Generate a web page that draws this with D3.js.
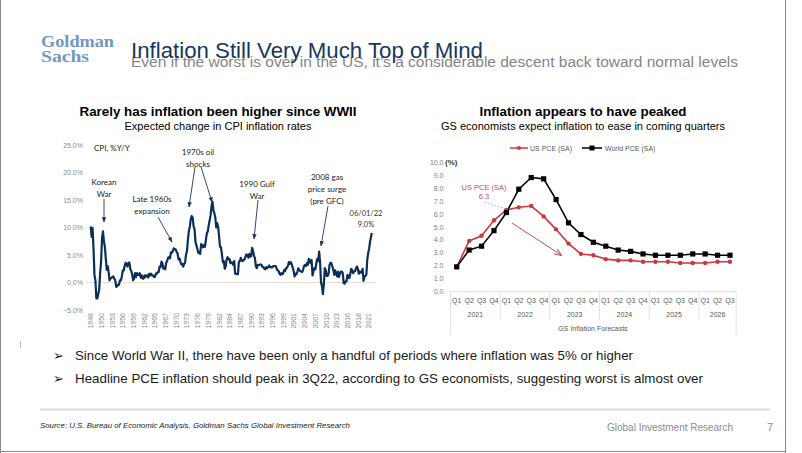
<!DOCTYPE html>
<html>
<head>
<meta charset="utf-8">
<script src="https://cdn.jsdelivr.net/npm/d3@7"></script>
<style>
  html, body { margin: 0; padding: 0; background: #ffffff; }
  svg { display: block; }
</style>
</head>
<body>
<svg id="chart" width="802" height="453"></svg>
<script>
// ---------------- DATA ----------------
// US CPI, % Y/Y, sampled at the first month of each quarter, starting Jan 1948
const cpiStartYear = 1948;
const cpiQuarterly = [
  10.2, 8.3, 9.9, 6.1,      // 1948
  1.3, 0.4, -2.9, -2.9,     // 1949
  -2.1, -1.3, 1.7, 3.8,     // 1950
  8.1, 9.3, 7.5, 6.5,       // 1951
  4.3, 2.3, 3.0, 1.9,       // 1952
  0.4, 0.8, 0.8, 1.0,       // 1953
  1.1, 0.7, 0.4, -0.8,      // 1954
  -0.7, -0.4, -0.4, 0.4,    // 1955
  0.4, 1.1, 2.2, 2.2,       // 1956
  3.0, 3.6, 3.3, 2.9,       // 1957
  3.6, 3.6, 2.4, 2.1,       // 1958
  1.4, 0.4, 0.7, 1.7,       // 1959
  1.0, 1.7, 1.4, 1.4,       // 1960
  1.7, 0.9, 1.3, 0.7,       // 1961
  0.7, 1.3, 1.0, 1.3,       // 1962
  1.3, 0.9, 1.6, 1.3,       // 1963
  1.6, 1.3, 1.3, 1.0,       // 1964
  1.0, 1.6, 1.6, 1.9,       // 1965
  1.9, 2.9, 2.8, 3.8,       // 1966
  3.5, 2.5, 2.8, 2.4,       // 1967
  3.6, 3.9, 4.5, 4.6,       // 1968
  4.4, 5.5, 5.4, 5.7,       // 1969
  6.2, 6.1, 6.0, 5.6,       // 1970
  5.3, 4.2, 4.4, 3.8,       // 1971
  3.3, 3.4, 2.9, 3.4,       // 1972
  3.6, 5.1, 5.7, 7.8,       // 1973
  9.4, 10.1, 11.5, 12.1,    // 1974
  11.8, 10.2, 9.7, 7.4,     // 1975
  6.7, 6.1, 5.4, 5.5,       // 1976
  5.2, 7.0, 6.8, 6.4,       // 1977
  6.8, 6.5, 7.7, 8.9,       // 1978
  9.3, 10.4, 11.3, 12.2,    // 1979
  13.9, 14.7, 13.1, 12.6,   // 1980
  11.8, 10.0, 10.8, 10.1,   // 1981
  8.4, 6.5, 6.4, 5.1,       // 1982
  3.7, 3.9, 2.5, 2.9,       // 1983
  4.2, 4.6, 4.2, 4.3,       // 1984
  3.5, 3.7, 3.6, 3.2,       // 1985
  3.9, 1.6, 1.6, 1.5,       // 1986
  1.5, 3.8, 3.9, 4.5,       // 1987
  4.0, 3.9, 4.1, 4.2,       // 1988
  4.7, 5.1, 5.0, 4.5,       // 1989
  5.2, 4.7, 4.8, 6.3,       // 1990
  5.7, 4.9, 4.4, 2.9,       // 1991
  2.6, 3.2, 3.2, 3.2,       // 1992
  3.3, 3.2, 2.8, 2.8,       // 1993
  2.5, 2.4, 2.8, 2.6,       // 1994
  2.8, 3.1, 2.8, 2.8,       // 1995
  2.7, 2.9, 3.0, 3.0,       // 1996
  3.0, 2.5, 2.2, 2.1,       // 1997
  1.6, 1.4, 1.7, 1.5,       // 1998
  1.7, 2.3, 2.1, 2.6,       // 1999
  2.7, 3.1, 3.7, 3.4,       // 2000
  3.7, 3.3, 2.7, 2.1,       // 2001
  1.1, 1.6, 1.5, 2.0,       // 2002
  2.6, 2.2, 2.1, 2.0,       // 2003
  1.9, 2.3, 3.0, 3.2,       // 2004
  3.0, 3.5, 3.2, 4.3,       // 2005
  4.0, 3.5, 4.1, 1.3,       // 2006
  2.1, 2.6, 2.4, 3.5,       // 2007
  4.3, 3.9, 5.6, 3.7,       // 2008
  0.0, -0.7, -2.1, -0.2,    // 2009
  2.6, 2.2, 1.2, 1.2,       // 2010
  1.6, 3.2, 3.6, 3.5,       // 2011
  2.9, 2.3, 1.4, 2.2,       // 2012
  1.6, 1.1, 2.0, 1.0,       // 2013
  1.6, 2.0, 2.0, 1.7,       // 2014
  -0.1, -0.2, 0.2, 0.2,     // 2015
  1.4, 1.1, 0.8, 1.6,       // 2016
  2.5, 2.2, 1.7, 2.0,       // 2017
  2.1, 2.5, 2.9, 2.5,       // 2018
  1.6, 2.0, 1.8, 1.8,       // 2019
  2.5, 0.3, 1.0, 1.2,       // 2020
  1.4, 4.2, 5.4, 6.2,       // 2021
  7.5, 8.3                  // 2022
];
const cpiLatestLabel = "06/01/22";
const cpiLatestValue = 9.0;           // June 2022
const cpiLatestMonth = (2022 - 1948) * 12 + 5;
const cpiYTicks = [-5, 0, 5, 10, 15, 20, 25];
const cpiYearLabels = ["1948","1950","1953","1956","1959","1962","1965","1967","1970","1973",
  "1976","1979","1982","1984","1987","1990","1993","1996","1999","2001","2004","2007","2010",
  "2013","2016","2018","2021"];
const cpiLabelStepMonths = 34;

// GS PCE forecasts
const pceQuarters = ["Q1","Q2","Q3","Q4","Q1","Q2","Q3","Q4","Q1","Q2","Q3","Q4",
  "Q1","Q2","Q3","Q4","Q1","Q2","Q3","Q4","Q1","Q2","Q3"];
const pceYears = ["2021","2022","2023","2024","2025","2026"];
const usPCE = [1.9, 3.9, 4.3, 5.5, 6.3, 6.5, 6.6, 5.8, 4.8, 3.7, 2.9, 2.8,
  2.5, 2.4, 2.4, 2.3, 2.3, 2.3, 2.2, 2.2, 2.2, 2.3, 2.3];
const worldPCE = [1.9, 3.2, 3.5, 4.7, 6.1, 7.9, 8.8, 8.7, 7.1, 5.3, 4.4, 3.8,
  3.5, 3.2, 3.1, 2.9, 2.8, 2.8, 2.8, 2.9, 2.9, 2.8, 2.8];
const pceYTicks = [0,1,2,3,4,5,6,7,8,9,10];
const seriesNames = ["US PCE (SA)", "World PCE (SA)"];

// ---------------- DRAW ----------------
const svg = d3.select("#chart");
const ARIAL = "'Liberation Sans', Arial, sans-serif";
const CALIBRI = "Lato, 'Open Sans', sans-serif";

svg.append("rect").attr("width", 802).attr("height", 453).attr("fill", "#fff");

// slide borders
svg.append("line").attr("x1", 0.5).attr("x2", 0.5).attr("y1", 0).attr("y2", 453)
  .attr("stroke", "#8c8c8c").attr("stroke-width", 1);
svg.append("line").attr("x1", 785.5).attr("x2", 785.5).attr("y1", 0).attr("y2", 453)
  .attr("stroke", "#8c8c8c").attr("stroke-width", 1);
svg.append("line").attr("x1", 0).attr("x2", 786).attr("y1", 451.5).attr("y2", 451.5)
  .attr("stroke", "#8c8c8c").attr("stroke-width", 1);
svg.append("line").attr("x1", 20.5).attr("x2", 20.5).attr("y1", 341).attr("y2", 348)
  .attr("stroke", "#bfbfbf").attr("stroke-width", 1);

// Header
svg.append("text").attr("x", 41).attr("y", 47).text("Goldman")
  .attr("font-family", "'Liberation Serif', 'DejaVu Serif', serif").attr("font-weight", "bold")
  .attr("font-size", 17.5).attr("fill", "#7397c4")
  .attr("textLength", 73).attr("lengthAdjust", "spacingAndGlyphs");
svg.append("text").attr("x", 41).attr("y", 61.5).text("Sachs")
  .attr("font-family", "'Liberation Serif', 'DejaVu Serif', serif").attr("font-weight", "bold")
  .attr("font-size", 17.5).attr("fill", "#7397c4")
  .attr("textLength", 48).attr("lengthAdjust", "spacingAndGlyphs");

svg.append("text").attr("x", 131).attr("y", 67).text("Even if the worst is over in the US, it\u2019s a considerable descent back toward normal levels")
  .attr("font-family", ARIAL).attr("font-size", 15.5).attr("fill", "#858585")
  .attr("textLength", 607).attr("lengthAdjust", "spacingAndGlyphs");
svg.append("text").attr("x", 131).attr("y", 58).text("Inflation Still Very Much Top of Mind")
  .attr("font-family", ARIAL).attr("font-size", 22).attr("fill", "#17375e")
  .attr("textLength", 352).attr("lengthAdjust", "spacingAndGlyphs");

// ---------- LEFT CHART ----------
const L = { x0: 90.7, x1: 371.7 };
const xL = d3.scaleLinear().domain([0, cpiLatestMonth]).range([L.x0, L.x1]);
const yL = d3.scaleLinear().domain([-5, 25]).range([310, 145]);

svg.append("text").attr("x", 218).attr("y", 116).attr("text-anchor", "middle")
  .text("Rarely has inflation been higher since WWII")
  .attr("font-family", ARIAL).attr("font-weight", "bold").attr("font-size", 12).attr("fill", "#000")
  .attr("textLength", 277).attr("lengthAdjust", "spacingAndGlyphs");
svg.append("text").attr("x", 218).attr("y", 130).attr("text-anchor", "middle")
  .text("Expected change in CPI inflation rates")
  .attr("font-family", ARIAL).attr("font-size", 10.5).attr("fill", "#000")
  .attr("textLength", 187).attr("lengthAdjust", "spacingAndGlyphs");

// y labels
const yAxisL = d3.axisLeft(yL).tickValues(cpiYTicks).tickSize(0).tickPadding(0)
  .tickFormat(d => d3.format(".1f")(d) + "%");
const gyL = svg.append("g").attr("transform", "translate(83,0)").call(yAxisL);
gyL.select(".domain").remove();
gyL.selectAll("text").attr("font-family", ARIAL).attr("font-size", 7).attr("fill", "#8a8a8a");

// zero line
svg.append("line").attr("x1", 87).attr("x2", 375).attr("y1", yL(0)).attr("y2", yL(0))
  .attr("stroke", "#e3ddd3").attr("stroke-width", 1);

// x labels (rotated)
const gxL = svg.append("g");
cpiYearLabels.forEach((lab, i) => {
  gxL.append("text")
    .attr("transform", `translate(${xL(i * cpiLabelStepMonths)},313) rotate(-90)`)
    .attr("text-anchor", "end").attr("dy", "0.35em")
    .attr("font-family", ARIAL).attr("font-size", 7).attr("fill", "#8a8a8a").text(lab);
});

// CPI line
const cpiPoints = cpiQuarterly.map((v, i) => [i * 3, v]).concat([[cpiLatestMonth, cpiLatestValue]]);
svg.append("path").datum(cpiPoints)
  .attr("d", d3.line().x(d => xL(d[0])).y(d => yL(d[1])))
  .attr("fill", "none").attr("stroke", "#0c2f5a").attr("stroke-width", 2.2)
  .attr("stroke-linejoin", "round");

// annotations
svg.append("defs").html(`
  <marker id="ahNavy" viewBox="0 0 10 10" refX="9" refY="5" markerWidth="6" markerHeight="6" orient="auto">
    <path d="M0,1 L10,5 L0,9 z" fill="#1d3557"/></marker>
  <marker id="ahRed" viewBox="0 0 10 10" refX="9" refY="5" markerWidth="7" markerHeight="7" orient="auto">
    <path d="M0,1 L10,5 L0,9" fill="none" stroke="#c0504d" stroke-width="1.4"/></marker>`);

function note(lines, cx, y0, lh, size, color, fam) {
  lines.forEach((t, i) => {
    svg.append("text").attr("x", cx).attr("y", y0 + i * lh).attr("text-anchor", "middle")
      .attr("font-family", fam || CALIBRI).attr("font-size", size || 8).attr("fill", color || "#1a1a1a").text(t);
  });
}
function arrow(x1, y1, x2, y2, id, color, w) {
  svg.append("line").attr("x1", x1).attr("y1", y1).attr("x2", x2).attr("y2", y2)
    .attr("stroke", color || "#1d3557").attr("stroke-width", w || 0.9)
    .attr("marker-end", `url(#${id || "ahNavy"})`);
}
svg.append("text").attr("x", 94).attr("y", 151).attr("font-family", CALIBRI)
  .attr("font-size", 8).attr("fill", "#1a1a1a").text("CPI, %Y/Y");
note(["Korean", "War"], 104, 185, 12);
arrow(104, 199, 104, 222);
note(["Late 1960s", "expansion"], 152, 202, 12);
arrow(158, 217, 172, 242);
note(["1970s oil", "shocks"], 198, 155, 12);
arrow(195, 167, 189, 207);
arrow(201, 167, 212, 202);
note(["1990 Gulf", "War"], 257, 187, 12);
arrow(258, 200, 254, 239);
note(["2008 gas", "price surge", "(pre GFC)"], 327, 180, 12);
arrow(328, 206, 321, 246);
note([cpiLatestLabel, d3.format(".1f")(cpiLatestValue) + "%"], 366, 216, 11, 7.5, "#333");

// ---------- RIGHT CHART ----------
const xR = d3.scaleBand().domain(d3.range(pceQuarters.length)).range([450.5, 736.2]).padding(0);
const yR = d3.scaleLinear().domain([0, 10]).range([291.5, 162]);
const cx = i => xR(i) + xR.bandwidth() / 2;

svg.append("text").attr("x", 583).attr("y", 116).attr("text-anchor", "middle")
  .text("Inflation appears to have peaked")
  .attr("font-family", ARIAL).attr("font-weight", "bold").attr("font-size", 12).attr("fill", "#000")
  .attr("textLength", 207).attr("lengthAdjust", "spacingAndGlyphs");
svg.append("text").attr("x", 583).attr("y", 130).attr("text-anchor", "middle")
  .text("GS economists expect inflation to ease in coming quarters")
  .attr("font-family", ARIAL).attr("font-size", 10.5).attr("fill", "#000")
  .attr("textLength", 284).attr("lengthAdjust", "spacingAndGlyphs");

// legend
const RED = "#c9393f";
svg.append("line").attr("x1", 510).attr("x2", 528).attr("y1", 148).attr("y2", 148).attr("stroke", RED).attr("stroke-width", 1.5);
svg.append("circle").attr("cx", 519).attr("cy", 148).attr("r", 2).attr("fill", RED);
svg.append("text").attr("x", 530).attr("y", 150.5).attr("font-family", ARIAL).attr("font-size", 7)
  .attr("fill", "#595959").text(seriesNames[0]);
svg.append("line").attr("x1", 582).attr("x2", 602).attr("y1", 148).attr("y2", 148).attr("stroke", "#000").attr("stroke-width", 1.5);
svg.append("rect").attr("x", 589.5).attr("y", 145.5).attr("width", 5).attr("height", 5).attr("fill", "#000");
svg.append("text").attr("x", 605).attr("y", 150.5).attr("font-family", ARIAL).attr("font-size", 7)
  .attr("fill", "#595959").text(seriesNames[1]);

// y axis
const yAxisR = d3.axisLeft(yR).tickValues(pceYTicks).tickSize(0).tickPadding(0).tickFormat(d3.format(".1f"));
const gyR = svg.append("g").attr("transform", "translate(443.5,0)").call(yAxisR);
gyR.select(".domain").remove();
gyR.selectAll("text").attr("font-family", ARIAL).attr("font-size", 7).attr("fill", "#7f7f7f");
svg.append("text").attr("x", 445).attr("y", yR(10) + 2.5).attr("font-family", ARIAL)
  .attr("font-size", 8).attr("font-weight", "bold").attr("fill", "#404040").text("(%)");

// x axis line and group separators
svg.append("line").attr("x1", 450.5).attr("x2", 736.2).attr("y1", yR(0)).attr("y2", yR(0))
  .attr("stroke", "#d9d9d9").attr("stroke-width", 0.8);
const gxR = svg.append("g");
pceQuarters.forEach((q, i) => {
  gxR.append("text").attr("x", cx(i)).attr("y", 303).attr("text-anchor", "middle")
    .attr("font-family", ARIAL).attr("font-size", 7).attr("fill", "#595959").text(q);
});
pceYears.forEach((yr, k) => {
  const i0 = k * 4, i1 = Math.min(k * 4 + 3, pceQuarters.length - 1);
  const xm = (xR(i0) + xR(i1) + xR.bandwidth()) / 2;
  gxR.append("text").attr("x", xm).attr("y", 317).attr("text-anchor", "middle")
    .attr("font-family", ARIAL).attr("font-size", 7).attr("fill", "#595959").text(yr);
  if (k > 0) {
    gxR.append("line").attr("x1", xR(i0)).attr("x2", xR(i0)).attr("y1", yR(0)).attr("y2", 320)
      .attr("stroke", "#d9d9d9").attr("stroke-width", 0.8);
  }
});
[xR(0), xR(pceQuarters.length - 1) + xR.bandwidth()].forEach(xx => {
  gxR.append("line").attr("x1", xx).attr("x2", xx).attr("y1", yR(0)).attr("y2", 335)
    .attr("stroke", "#d9d9d9").attr("stroke-width", 0.8);
});
gxR.append("text").attr("x", 593).attr("y", 331).attr("text-anchor", "middle")
  .attr("font-family", ARIAL).attr("font-size", 7).attr("fill", "#595959").text("GS Inflation Forecasts");

// series
const lineR = d3.line().x((d, i) => cx(i)).y(d => yR(d));
svg.append("path").datum(usPCE).attr("d", lineR).attr("fill", "none").attr("stroke", RED).attr("stroke-width", 1.6);
svg.append("path").datum(worldPCE).attr("d", lineR).attr("fill", "none").attr("stroke", "#000").attr("stroke-width", 1.6);
svg.append("g").selectAll("circle").data(usPCE).join("circle")
  .attr("cx", (d, i) => cx(i)).attr("cy", d => yR(d)).attr("r", 2.2).attr("fill", RED);
svg.append("g").selectAll("rect").data(worldPCE).join("rect")
  .attr("x", (d, i) => cx(i) - 2.6).attr("y", d => yR(d) - 2.6).attr("width", 5.2).attr("height", 5.2).attr("fill", "#000");

// US PCE callout
const calloutIdx = 4;
svg.append("text").attr("x", 484).attr("y", 190).attr("text-anchor", "middle").attr("font-family", ARIAL)
  .attr("font-size", 7.5).attr("fill", "#c0504d").text(seriesNames[0]);
svg.append("text").attr("x", 484).attr("y", 199).attr("text-anchor", "middle").attr("font-family", ARIAL)
  .attr("font-size", 7.5).attr("fill", "#c0504d").text(d3.format(".1f")(usPCE[calloutIdx]));
svg.append("line").attr("x1", 484).attr("y1", 202).attr("x2", cx(calloutIdx) - 1).attr("y2", yR(usPCE[calloutIdx]) - 1)
  .attr("stroke", "#a6a6a6").attr("stroke-width", 0.8).attr("stroke-dasharray", "2,1.5");
arrow(512, 223, 561, 255, "ahRed", "#c0504d", 1);

// Bullets
const bullets = [
  "Since World War II, there have been only a handful of periods where inflation was 5% or higher",
  "Headline PCE inflation should peak in 3Q22, according to GS economists, suggesting worst is almost over"
];
const bulletWidths = [558, 628];
bullets.forEach((t, i) => {
  const y = 360 + i * 23;
  svg.append("text").attr("x", 53).attr("y", y).attr("font-family", "'DejaVu Sans', sans-serif")
    .attr("font-size", 13).attr("fill", "#1a1a1a").text("\u27A2");
  svg.append("text").attr("x", 75).attr("y", y).attr("font-family", ARIAL).attr("font-size", 13.5)
    .attr("fill", "#1a1a1a").text(t)
    .attr("textLength", bulletWidths[i]).attr("lengthAdjust", "spacingAndGlyphs");
});

// Footer
svg.append("line").attr("x1", 40).attr("x2", 770).attr("y1", 409.5).attr("y2", 409.5)
  .attr("stroke", "#dcdcdc").attr("stroke-width", 2);
svg.append("text").attr("x", 40).attr("y", 428).attr("font-family", ARIAL).attr("font-style", "italic")
  .attr("font-size", 7.5).attr("fill", "#1a1a1a")
  .text("Source: U.S. Bureau of Economic Analysis, Goldman Sachs Global Investment Research")
  .attr("textLength", 310).attr("lengthAdjust", "spacingAndGlyphs");
svg.append("text").attr("x", 607).attr("y", 431).attr("font-family", ARIAL)
  .attr("font-size", 11).attr("fill", "#8c8c8c").text("Global Investment Research")
  .attr("textLength", 126).attr("lengthAdjust", "spacingAndGlyphs");
svg.append("text").attr("x", 767).attr("y", 431).attr("font-family", ARIAL)
  .attr("font-size", 11).attr("fill", "#8c8c8c").text("7");
</script>
</body>
</html>
